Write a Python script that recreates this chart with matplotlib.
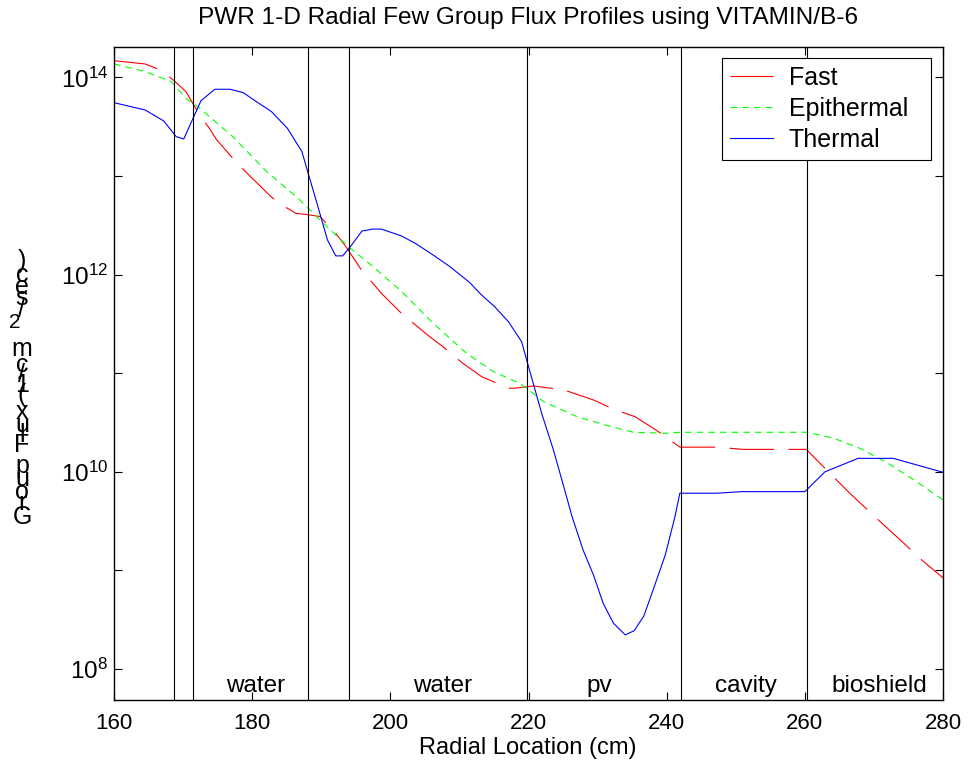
import numpy as np
import matplotlib
matplotlib.use("Agg")
import matplotlib.pyplot as plt
from matplotlib.ticker import FixedLocator, FixedFormatter, NullLocator
import matplotlib.transforms as mtransforms

plt.rcParams['font.family'] = ['Liberation Sans', 'DejaVu Sans']
plt.rcParams['mathtext.fontset'] = 'custom'
plt.rcParams['mathtext.rm'] = 'Liberation Sans'
plt.rcParams['mathtext.it'] = 'Liberation Sans:italic'

# radial location (cm) and group fluxes
r_fast = [160, 164.5, 166.7, 168.7, 170.4, 172.4, 173.8, 174.8, 177.9, 179.5,
          182.8, 184.3, 186.3, 188.2, 189.8, 192.0, 193.4, 195.8, 198.7, 201.6,
          205.4, 207.6, 210.5, 213.2, 217.1, 218.0, 220.7, 225.1, 229.4, 232.3,
          235.4, 237.3, 239.5, 241.9, 247.2, 251.1, 260.2, 262.2, 266.5, 270.9,
          273.8, 276.9, 280]
fast = [1.48e14, 1.37e14, 1.19e14, 9.29e13, 7.18e13, 4.17e13, 3.05e13, 2.36e13, 1.33e13, 1.03e13,
        6.10e12, 5.09e12, 4.20e12, 4.04e12, 3.89e12, 2.67e12, 2.00e12, 1.12e12, 6.47e11, 4.06e11,
        2.44e11, 1.86e11, 1.26e11, 9.25e10, 7.05e10, 7.05e10, 7.43e10, 6.78e10, 5.36e10, 4.32e10,
        3.63e10, 2.99e10, 2.37e10, 1.78e10, 1.78e10, 1.69e10, 1.69e10, 1.22e10, 6.07e9, 3.13e9,
        2.04e9, 1.28e9, 8.4e8]

r_epi = [160, 164.5, 168.3, 170.4, 172.4, 177.2, 182.1, 186.9, 190.8, 194.2,
         196.6, 201.4, 206.2, 211.0, 214.9, 218.8, 222.2, 227.0, 231.9, 235.2,
         240.0, 241.9, 260.3, 264.2, 268.0, 271.9, 275.8, 280]
epithermal = [1.37e14, 1.15e14, 9.06e13, 6.15e13, 4.88e13, 2.51e13, 1.11e13, 5.73e12, 3.07e12, 1.85e12,
              1.36e12, 7.0e11, 3.21e11, 1.60e11, 1.04e11, 7.85e10, 5.15e10, 3.63e10, 2.88e10, 2.52e10,
              2.46e10, 2.52e10, 2.52e10, 2.19e10, 1.73e10, 1.24e10, 8.28e9, 5.19e9]

r_th = [160, 164.5, 167.2, 169.0, 170.1, 172.6, 174.6, 176.8, 178.7, 180.6,
        182.8, 185.1, 187.2, 188.1, 189.1, 190.9, 192.1, 193.1, 194.2, 195.9,
        197.5, 198.7, 201.6, 203.6, 206.2, 208.6, 211.5, 213.2, 215.1, 217.1,
        219.0, 220.0, 221.9, 223.6, 225.1, 226.3, 227.9, 229.4, 230.8, 232.3,
        234.0, 235.3, 236.7, 238.2, 239.8, 241.2, 241.9, 247.2, 250.9, 260.0,
        262.9, 267.7, 272.8, 280]
thermal = [5.55e13, 4.68e13, 3.62e13, 2.51e13, 2.38e13, 5.82e13, 7.59e13, 7.59e13, 7.02e13, 5.69e13,
           4.50e13, 3.05e13, 1.77e13, 1.07e13, 6.18e12, 2.25e12, 1.55e12, 1.55e12, 1.92e12, 2.77e12,
           2.90e12, 2.90e12, 2.47e12, 2.08e12, 1.58e12, 1.21e12, 8.30e11, 6.22e11, 4.73e11, 3.33e11,
           2.09e11, 1.17e11, 3.93e10, 1.67e10, 7.08e9, 3.52e9, 1.61e9, 9.0e8, 4.65e8, 2.91e8,
           2.22e8, 2.45e8, 3.46e8, 6.85e8, 1.44e9, 3.52e9, 6.07e9, 6.07e9, 6.30e9, 6.30e9,
           1.0e10, 1.37e10, 1.37e10, 9.9e9]

# material boundaries and region names
boundaries = [168.7, 171.5, 188.1, 194.0, 219.8, 242.0, 260.3]
regions = ['water', 'water', 'pv', 'cavity', 'bioshield']
region_x = [180.5, 207.6, 230.3, 251.4, 270.8]

ytick_vals = [1e8, 1e9, 1e10, 1e11, 1e12, 1e13, 1e14]
ytick_text = ['$10^{8}$', '', '$10^{10}$', '', '$10^{12}$', '', '$10^{14}$']

fig = plt.figure(figsize=(9.71, 7.74), dpi=100)
ax = fig.add_axes([0.1174, 0.0956, 0.8538, 0.8437])

ax.plot(r_fast, fast, color='red', lw=0.8, dashes=(40, 13), label='Fast')
ax.plot(r_epi, epithermal, color='#00ff00', lw=0.8, dashes=(6, 4.5), label='Epithermal')
ax.plot(r_th, thermal, color='blue', lw=0.8, label='Thermal')

for b in boundaries:
    ax.axvline(b, color='black', lw=0.8)

ax.set_yscale('log')
ax.set_xlim(160, 280)
ax.set_ylim(10**7.686, 10**14.309)
ax.set_xticks(np.arange(160, 281, 20))
ax.yaxis.set_major_locator(FixedLocator(ytick_vals))
ax.yaxis.set_major_formatter(FixedFormatter(ytick_text))
ax.yaxis.set_minor_locator(NullLocator())
ax.tick_params(direction='in', top=True, right=True, length=6, width=0.8)
ax.tick_params(axis='x', labelsize=16, pad=9)
ax.tick_params(axis='y', labelsize=17.5, pad=4)
for s in ax.spines.values():
    s.set_linewidth(1.0)

trans = mtransforms.blended_transform_factory(ax.transData, ax.transAxes)
for name, xr in zip(regions, region_x):
    ax.text(xr, 0.013, name, transform=trans, ha='center', va='baseline', fontsize=17.5)

leg = ax.legend(loc='upper left', bbox_to_anchor=(722 / 971, 1 - 158 / 774, 209 / 971, 100 / 774),
                bbox_transform=fig.transFigure, mode='expand', borderaxespad=0, fancybox=False,
                edgecolor='black', framealpha=1, fontsize=18, handlelength=1.7,
                handletextpad=0.65, labelspacing=0.28, borderpad=0.32)
leg.get_frame().set_linewidth(0.8)

fig.text(528 / 971, 1 - 18 / 774, 'PWR 1-D Radial Few Group Flux Profiles using VITAMIN/B-6',
         ha='center', va='center', fontsize=17.6)
fig.text(528 / 971, 1 - 748 / 774, 'Radial Location (cm)', ha='center', va='center', fontsize=17)

# the y label comes out with its letters stacked upright, as in the original
ylab_chars = ['G', 'r', 'o', 'u', 'p', 'F', 'l', 'u', 'x', '(', '1', '/', 'c', 'm', '2', '/', 's', 'e', 'c', ')']
ylab_pos = [517, 503, 492, 479, 466, 445, 435, 425, 412, 395, 385, 375, 365, 349, 322, 310, 298, 287, 275, 261]
for ch, yp in zip(ylab_chars, ylab_pos):
    xp = 15 if ch == '2' else 22
    fs = 15 if ch == '2' else 18
    fig.text(xp / 971, 1 - yp / 774, ch, ha='center', va='center', fontsize=fs)

fig.savefig('out.png', dpi=100)
